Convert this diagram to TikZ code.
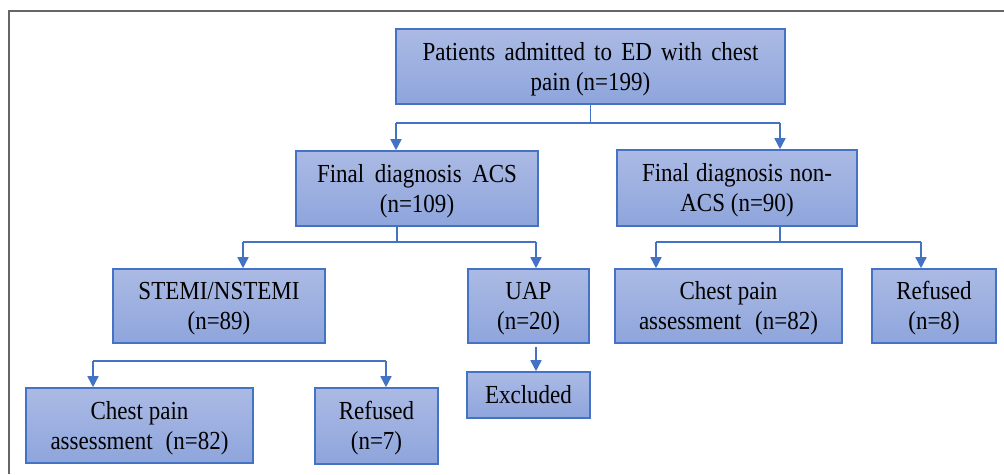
\documentclass[tikz,border=0pt]{standalone}
\usepackage{fontspec}
\setmainfont{Liberation Serif}[FakeStretch=0.885]
\usetikzlibrary{arrows.meta}
\definecolor{bord}{HTML}{4472C4}
\definecolor{ftop}{HTML}{ABBAE4}
\definecolor{fbot}{HTML}{8EA5DC}
\definecolor{frame}{HTML}{666666}
\tikzset{
  box/.style={draw=bord, line width=1.6pt, top color=ftop, bottom color=fbot,
    rectangle, inner sep=0pt, align=center, text=black,
    font=\fontsize{26}{30}\selectfont},
  conn/.style={draw=bord, line width=1.6pt},
  arr/.style={conn, -{Triangle[width=11pt,length=11pt]}},
}
\newcommand{\sline}[2]{\makebox[#1][s]{#2}}
\newcommand{\twolines}[2]{\rule{0pt}{24pt}#1\\#2\rule[-7pt]{0pt}{7pt}}
\begin{document}
\begin{tikzpicture}[x=1pt,y=-1pt]
\useasboundingbox (0,0) rectangle (1004,474);
% frame
\draw[frame, line width=2pt] (9,474) -- (9,10.5) -- (1004,10.5);
% boxes
\node[box, minimum width=389pt, minimum height=75pt] (top) at (590.5,66.5)
  {\twolines{\sline{336pt}{Patients admitted to ED with chest}}{pain (n=199)}};
\node[box, minimum width=242pt, minimum height=75pt] (acs) at (417,188.5)
  {\twolines{\sline{200pt}{Final diagnosis ACS}}{(n=109)}};
\node[box, minimum width=240pt, minimum height=76pt] (nacs) at (737,188)
  {\twolines{\sline{190pt}{Final diagnosis non-}}{ACS (n=90)}};
\node[box, minimum width=212pt, minimum height=74pt] (stemi) at (219,306)
  {\twolines{STEMI/NSTEMI}{(n=89)}};
\node[box, minimum width=121pt, minimum height=74pt] (uap) at (528.5,306)
  {\twolines{UAP}{(n=20)}};
\node[box, minimum width=227pt, minimum height=74pt] (cpr) at (728.5,306)
  {\twolines{Chest pain}{\sline{179pt}{assessment (n=82)}}};
\node[box, minimum width=124pt, minimum height=74pt] (refr) at (934,306)
  {\twolines{Refused}{(n=8)}};
\node[box, minimum width=227pt, minimum height=75pt] (cpl) at (139.5,425.5)
  {\twolines{Chest pain}{\sline{178pt}{assessment (n=82)}}};
\node[box, minimum width=123pt, minimum height=76pt] (refl) at (376.5,426)
  {\twolines{Refused}{(n=7)}};
\node[box, minimum width=123pt, minimum height=46pt] (exc) at (528.5,395)
  {Excluded};
% connectors level 1
\coordinate (j1) at (590.5,123);
\coordinate (a1) at (396,123);
\coordinate (a2) at (780,123);
\draw[conn] (top.south) -- (j1);
\draw[conn] (a1) -- (a2);
\draw[arr] (a1) -- (a1 |- acs.north);
\draw[arr] (a2) -- (a2 |- nacs.north);
% ACS split
\coordinate (j2) at (397,242);
\coordinate (b1) at (243,242);
\coordinate (b2) at (536,242);
\draw[conn] (j2 |- acs.south) -- (j2);
\draw[conn] (b1) -- (b2);
\draw[arr] (b1) -- (b1 |- stemi.north);
\draw[arr] (b2) -- (b2 |- uap.north);
% non-ACS split
\coordinate (j3) at (780,242);
\coordinate (c1) at (656,242);
\coordinate (c2) at (921,242);
\draw[conn] (j3 |- nacs.south) -- (j3);
\draw[conn] (c1) -- (c2);
\draw[arr] (c1) -- (c1 |- cpr.north);
\draw[arr] (c2) -- (c2 |- refr.north);
% STEMI split
\coordinate (d1) at (93,361);
\coordinate (d2) at (386,361);
\draw[conn] (d1) -- (d2);
\draw[arr] (d1) -- (d1 |- cpl.north);
\draw[arr] (d2) -- (d2 |- refl.north);
% UAP -> Excluded
\coordinate (u1) at (536,347);
\draw[arr] (u1) -- (u1 |- exc.north);
\end{tikzpicture}
\end{document}
